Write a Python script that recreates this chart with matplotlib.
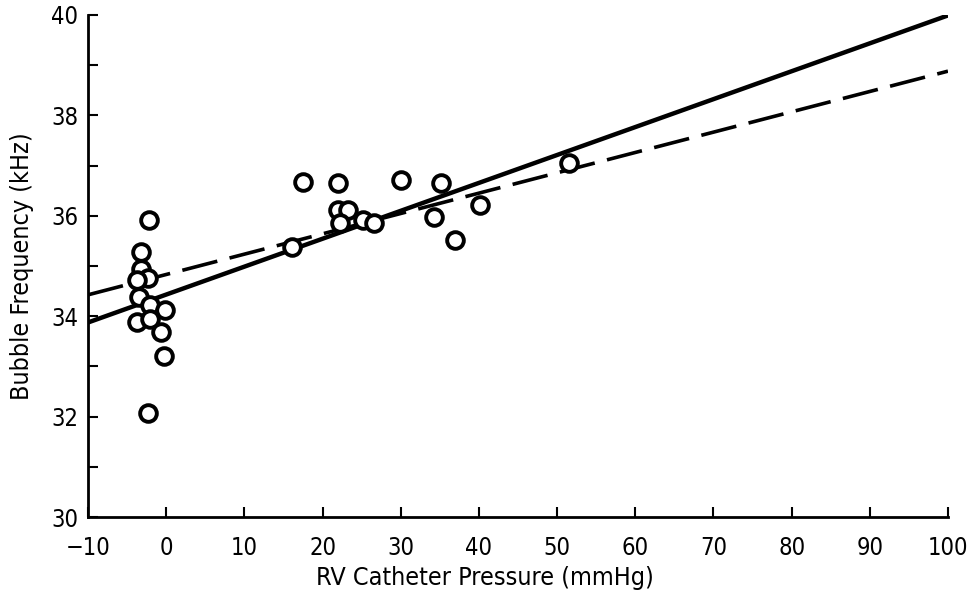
import matplotlib
matplotlib.use('Agg')
import matplotlib.pyplot as plt
import numpy as np

plt.rcParams['font.family'] = ['DejaVu Sans']
plt.rcParams['font.stretch'] = 'condensed'

# RV catheter pressure (mmHg) and bubble frequency (kHz)
pressure = [-2.2, -3.2, -3.2, -2.3, -3.7, -3.5, -2.1, -0.1, -3.7, -2.1, -0.6, -0.3, -2.3,
            17.5, 22.0, 30.1, 35.2, 22.0, 23.3, 22.2, 25.2, 26.6, 34.2, 40.1, 36.9, 16.1, 51.5]
frequency = [35.92, 35.28, 34.94, 34.77, 34.72, 34.38, 34.22, 34.12, 33.88, 33.95, 33.69, 33.2, 32.07,
             36.68, 36.66, 36.71, 36.66, 36.12, 36.12, 35.85, 35.92, 35.85, 35.98, 36.22, 35.52, 35.38, 37.05]

# regression lines (intercept at x=0, slope)
solid_fit = (34.43, 0.0556)
dashed_fit = (34.83, 0.0405)

fig = plt.figure(figsize=(9.68, 5.97), dpi=100)
ax = fig.add_axes([0.0909, 0.134, 0.8884, 0.841])

xs = np.array([-10, 100])
ax.plot(xs, solid_fit[0] + solid_fit[1] * xs, color='black', lw=3.2, solid_capstyle='butt')
ax.plot(xs, dashed_fit[0] + dashed_fit[1] * xs, color='black', lw=2.6, dashes=(10, 3.5))
ax.plot(pressure, frequency, 'o', mfc='white', mec='black', ms=12, mew=2.8, zorder=3)

ax.set_xlim(-10, 100)
ax.set_ylim(30, 40)
ax.set_xticks(range(-10, 101, 10))
ax.set_xticklabels(['\u221210'] + [str(v) for v in range(0, 101, 10)])
ax.set_yticks(range(30, 41, 2))
ax.set_yticks(range(31, 40, 2), minor=True)
ax.tick_params(direction='in', length=7, width=1.5, labelsize=17)
ax.tick_params(axis='x', pad=14)
ax.tick_params(axis='y', pad=7)
ax.tick_params(which='minor', direction='in', length=7, width=1.5)
for s in ['top', 'right']:
    ax.spines[s].set_visible(False)
for s in ['left', 'bottom']:
    ax.spines[s].set_linewidth(2)

ax.set_xlabel('RV Catheter Pressure (mmHg)', fontsize=18)
ax.xaxis.set_label_coords(0.462, -0.097)
ax.set_ylabel('Bubble Frequency (kHz)', fontsize=18, labelpad=12)

fig.savefig('out.png', dpi=100)
